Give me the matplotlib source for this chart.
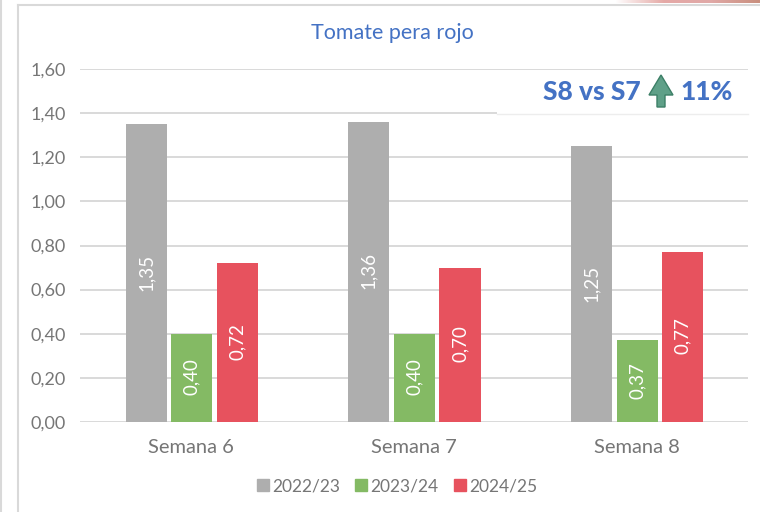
import matplotlib
matplotlib.use("Agg")
import matplotlib.pyplot as plt
import numpy as np
from matplotlib.patches import FancyArrow
from matplotlib.lines import Line2D
from matplotlib.colors import LinearSegmentedColormap

categories = ["Semana 6", "Semana 7", "Semana 8"]
series_names = ["2022/23", "2023/24", "2024/25"]
v2223 = [1.35, 1.36, 1.25]
v2324 = [0.40, 0.40, 0.37]
v2425 = [0.72, 0.70, 0.77]
labels_2223 = ["1,35", "1,36", "1,25"]
labels_2324 = ["0,40", "0,40", "0,37"]
labels_2425 = ["0,72", "0,70", "0,77"]
yticks = [0, 0.2, 0.4, 0.6, 0.8, 1.0, 1.2, 1.4, 1.6]
colors = ["#AEAEAE", "#84BA64", "#E7525E"]
TXT = "#767676"

W, H = 760, 512
plt.rcParams['font.family'] = ['Lato', 'DejaVu Sans']
fig = plt.figure(figsize=(W/100, H/100), dpi=100, facecolor="white")
ax = fig.add_axes([80/W, 1-422/H, 668/W, (422-69)/H])
ax.set_xlim(-0.5, 2.5)
ax.set_ylim(0, 1.6)
ax.set_facecolor("none")
for s in ax.spines.values():
    s.set_visible(False)
ax.set_yticks(yticks)
ax.set_yticklabels([f"{t:.2f}".replace(".", ",") for t in yticks], fontsize=13, color=TXT)
ax.tick_params(axis="y", length=0, pad=10)
ax.set_xticks(range(3))
ax.set_xticklabels(categories, fontsize=14.5, color=TXT)
ax.tick_params(axis="x", length=0, pad=12)
ax.grid(axis="y", color="#D9D9D9", lw=1.4)
ax.set_axisbelow(True)

x = np.arange(3)
step = 0.205
w = 0.185
all_vals = [v2223, v2324, v2425]
all_labels = [labels_2223, labels_2324, labels_2425]
for i, (vals, labs, c, n) in enumerate(zip(all_vals, all_labels, colors, series_names)):
    pos = x + (i-1)*step + 0.002
    ax.bar(pos, vals, width=w, color=c, label=n, zorder=2)
    for p, v, l in zip(pos, vals, labs):
        ax.text(p, v/2 + 0.005, l, rotation=90, ha="center", va="center", color="white", fontsize=13.5, zorder=3)

# white note box that veils the 1,40 gridline
ax.add_patch(plt.Rectangle((497/W, 1-114/H), 251/W, 40/H, transform=fig.transFigure,
                           facecolor="white", edgecolor="none", zorder=1.5))
fig.add_artist(Line2D([497/W, 748/W], [1-113.5/H]*2, color="#EDEDED", lw=1))

fig.text(392/W, 1-33/H, "Tomate pera rojo", ha="center", va="center", fontsize=15.5, color="#4472C4")
fig.text(543/W, 1-92/H, "S8 vs S7", ha="left", va="center", fontsize=19, fontweight="black", color="#4472C4")
fig.text(680/W, 1-92/H, "11%", ha="left", va="center", fontsize=19, fontweight="black", color="#4472C4")
fig.add_artist(FancyArrow(661, H-107, 0, 32, width=8, head_width=24, head_length=20,
                          length_includes_head=True, transform=None,
                          facecolor="#5FA088", edgecolor="#3C7F66", lw=1))

# frame lines
fig.add_artist(Line2D([17.5/W, 17.5/W], [0, 1-4.5/H], color="#D9D9D9", lw=1.5))
fig.add_artist(Line2D([17.5/W, 1], [1-4.5/H]*2, color="#D9D9D9", lw=1.5))
fig.add_artist(Line2D([0.5/W, 0.5/W], [0, 1], color="#D9D9D9", lw=1.5))

# red smear at the top right edge of the screenshot
sm = fig.add_axes([615/W, 1-3.5/H, 145/W, 3.5/H])
sm.axis("off")
cm = LinearSegmentedColormap.from_list("s", ["#FFFFFF", "#E5A9A6", "#E0A8A6", "#C98F7E"])
sm.imshow(np.linspace(0, 1, 145)[None, :], aspect="auto", cmap=cm)

h = [plt.Rectangle((0, 0), 1, 1, color=c) for c in colors]
fig.legend(h, series_names, loc="center", bbox_to_anchor=(397/W, 1-486/H), ncol=3, frameon=False,
           fontsize=12.5, labelcolor=TXT, handlelength=0.7, handleheight=0.7,
           handletextpad=0.2, columnspacing=0.85)

fig.savefig("out.png", dpi=100)
